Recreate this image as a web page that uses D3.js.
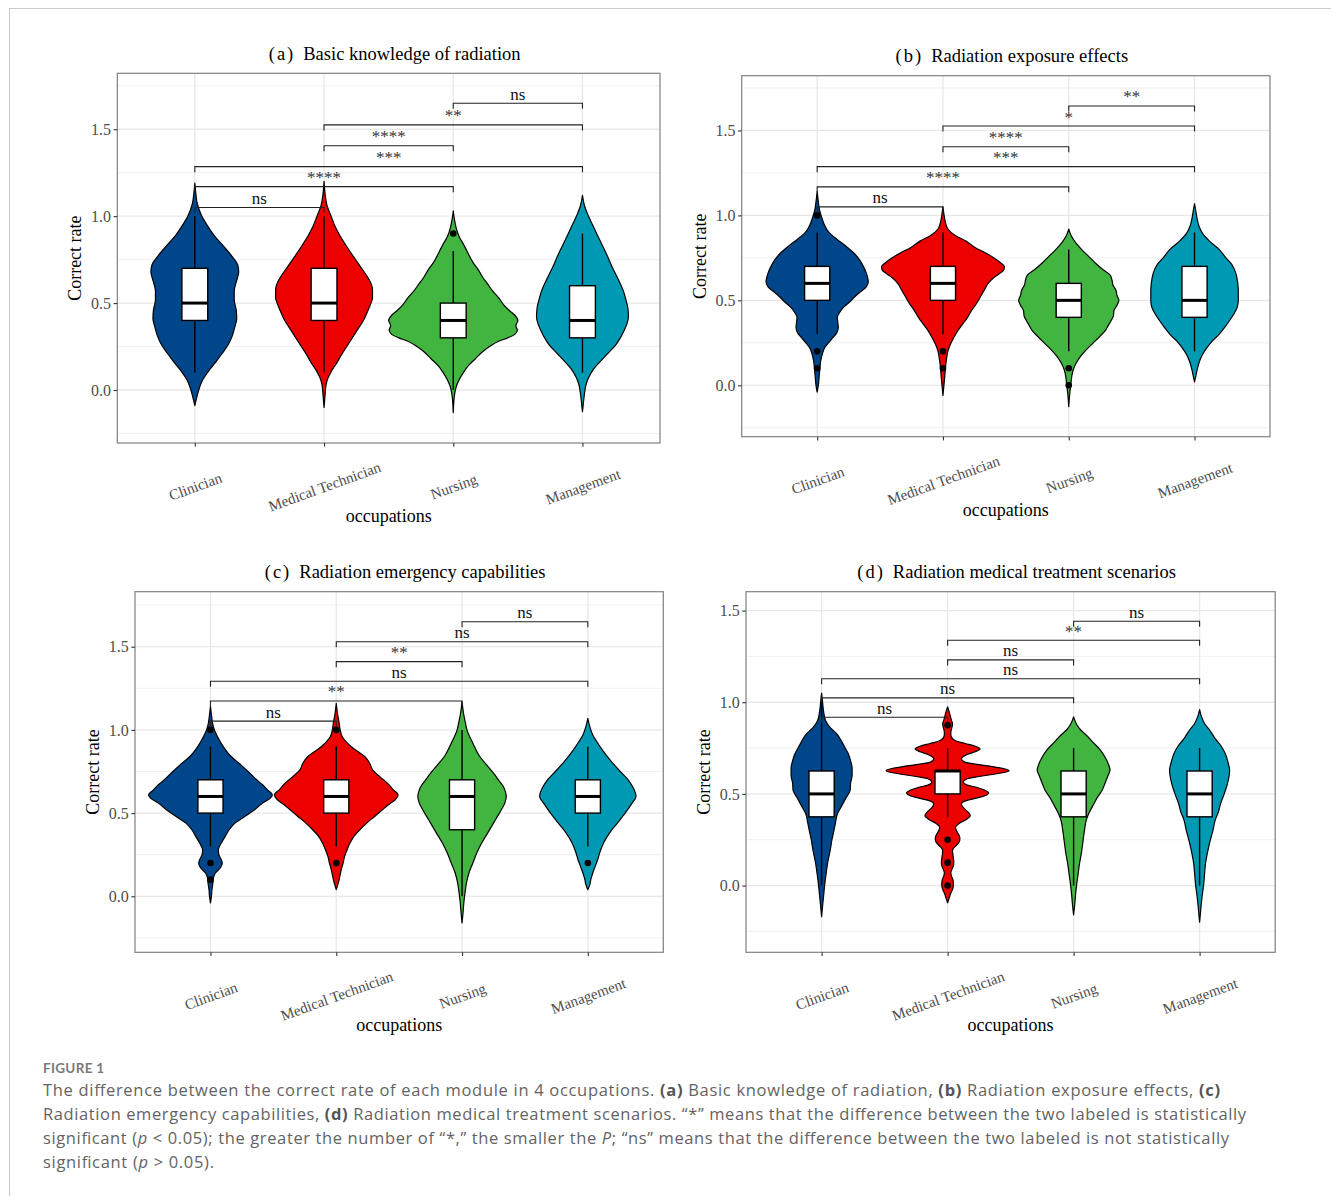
<!DOCTYPE html>
<html>
<head>
<meta charset="utf-8">
<script src="https://cdn.jsdelivr.net/npm/d3@7"></script>
<style>
  body { margin: 0; background: #fff; }
  svg { display: block; }
</style>
</head>
<body>
<div id="chart"></div>
<script>
// ---- data -------------------------------------------------------------
const occupations = ["Clinician", "Medical Technician", "Nursing", "Management"];
const fills = ["#00468B", "#ED0000", "#42B540", "#0099B4"];
const yTicks = [0, 0.5, 1.0, 1.5];
const yMinor = [-0.25, 0.25, 0.75, 1.25, 1.75];

// comparison pairs (indices into occupations), lowest bracket first
const pairs = [[0, 1], [0, 2], [0, 3], [1, 2], [1, 3], [2, 3]];

// boxplot stats per occupation: [lower whisker, Q1, median, Q3, upper whisker]
const boxA = [[0.1, 0.4, 0.5, 0.7, 1.0], [0.1, 0.4, 0.5, 0.7, 1.0], [0.0, 0.3, 0.4, 0.5, 0.8], [0.1, 0.3, 0.4, 0.6, 0.9]];
const boxB = [[0.3, 0.5, 0.6, 0.7, 0.9], [0.3, 0.5, 0.6, 0.7, 0.9], [0.2, 0.4, 0.5, 0.6, 0.8], [0.2, 0.4, 0.5, 0.7, 0.9]];
const boxC = [[0.3, 0.5, 0.6, 0.7, 0.9], [0.3, 0.5, 0.6, 0.7, 0.9], [0.0, 0.4, 0.6, 0.7, 1.0], [0.3, 0.5, 0.6, 0.7, 0.9]];
const boxD = [[0.0, 0.375, 0.5, 0.625, 1.0], [0.375, 0.5, 0.625, 0.625, 0.75], [0.0, 0.375, 0.5, 0.625, 0.75], [0.0, 0.375, 0.5, 0.625, 0.75]];

// outlying observations
const outA = [[], [], [0.9], []];
const outB = [[1.0, 0.2, 0.1], [0.2, 0.1], [0.1, 0.0], []];
const outC = [[1.0, 0.2, 0.1], [1.0, 0.2], [], [0.2]];
const outD = [[], [0.875, 0.25, 0.125, 0.0], [], []];

// significance labels and bracket heights (correct-rate units)
const sigA = ["ns", "****", "***", "****", "**", "ns"];
const sigB = ["ns", "****", "***", "****", "*", "**"];
const sigC = ["ns", "**", "ns", "**", "ns", "ns"];
const sigD = ["ns", "ns", "ns", "ns", "**", "ns"];
const bracketA = [1.05, 1.17, 1.285, 1.405, 1.525, 1.65];
const bracketB = [1.05, 1.168, 1.287, 1.404, 1.526, 1.644];
const bracketC = [1.053, 1.174, 1.292, 1.41, 1.53, 1.65];
const bracketD = [0.918, 1.024, 1.128, 1.231, 1.338, 1.442];

// violin outlines: [correct rate, density half-width]
const violinA = [
  [[1.19,0],[1.13,1],[1.07,2.5],[1.0,7],[0.95,12],[0.89,19],[0.83,28],[0.76,38],[0.72,42.5],[0.68,43.5],[0.63,41.5],[0.57,39],[0.52,39],[0.46,41],[0.41,41.5],[0.36,39.5],[0.31,37],[0.26,33],[0.21,27],[0.17,22],[0.13,16.5],[0.1,12.5],[0.06,8],[0.02,5],[-0.03,2.5],[-0.09,0]],
  [[1.2,0],[1.13,1],[1.06,3],[1.0,7],[0.94,11],[0.89,15.5],[0.83,22],[0.76,30],[0.71,36],[0.66,42],[0.62,46],[0.58,48],[0.53,48],[0.5,46.5],[0.45,43],[0.4,39],[0.35,33.5],[0.3,28],[0.25,22.5],[0.2,17],[0.15,12],[0.11,7.5],[0.07,4],[0.03,2],[-0.03,1],[-0.1,0]],
  [[1.03,0],[0.98,1.2],[0.93,3],[0.88,6],[0.84,10],[0.8,13.5],[0.76,17],[0.73,20],[0.69,25],[0.65,29],[0.61,34],[0.57,39],[0.53,45],[0.49,50],[0.46,55],[0.43,61],[0.4,64],[0.37,62],[0.345,63.5],[0.32,61],[0.3,54],[0.28,45],[0.25,36],[0.22,29],[0.18,22],[0.14,15],[0.1,10],[0.06,6],[0.02,3],[-0.03,1.2],[-0.13,0]],
  [[1.12,0],[1.06,2],[1.0,6],[0.95,10],[0.9,14],[0.84,19],[0.78,24],[0.7,30],[0.63,36],[0.57,40.5],[0.52,43],[0.47,45],[0.42,45.5],[0.38,44],[0.34,41],[0.3,37.5],[0.26,33],[0.21,25],[0.16,17],[0.12,11],[0.07,6],[0.03,3.5],[-0.02,2],[-0.07,1],[-0.125,0]]
];
const violinB = [
  [[1.14,0],[1.08,1.2],[1.03,2.5],[1.0,4],[0.95,7],[0.9,12],[0.86,20],[0.82,29],[0.78,37],[0.74,43],[0.7,47],[0.66,50],[0.63,51.5],[0.61,52],[0.58,50],[0.55,44],[0.52,38],[0.49,33],[0.46,27],[0.43,23],[0.4,20.5],[0.37,21],[0.34,21.5],[0.31,20],[0.28,16],[0.25,11.5],[0.22,7.5],[0.18,5],[0.14,3.5],[0.1,2.8],[0.05,2],[0.0,1.2],[-0.04,0]],
  [[1.05,0],[1.0,1.2],[0.96,2.5],[0.92,5],[0.88,13],[0.85,23],[0.81,33],[0.78,43],[0.75,52],[0.72,59],[0.7,62.5],[0.68,62],[0.66,58],[0.63,51],[0.6,46],[0.56,42],[0.52,38],[0.48,34],[0.44,29],[0.4,25],[0.36,20],[0.32,15],[0.28,11],[0.24,7.5],[0.2,5],[0.15,3.5],[0.1,2.5],[0.05,1.8],[0.0,1],[-0.06,0]],
  [[0.92,0],[0.88,2.5],[0.84,7],[0.8,13],[0.76,20],[0.72,27],[0.68,35],[0.65,42],[0.62,44],[0.59,45],[0.56,48],[0.53,49],[0.5,51],[0.47,49],[0.44,46],[0.41,45.5],[0.38,43],[0.35,40],[0.32,37],[0.29,32],[0.25,25],[0.21,18],[0.17,12],[0.13,7.5],[0.09,4.5],[0.05,3],[0.0,2],[-0.05,1],[-0.126,0]],
  [[1.07,0],[1.02,1.5],[0.97,3],[0.93,5],[0.9,7.5],[0.85,15],[0.8,25],[0.75,32],[0.71,38],[0.66,42],[0.6,44],[0.55,44.5],[0.5,44.5],[0.46,43.5],[0.42,40],[0.38,35.5],[0.34,30.5],[0.3,25],[0.26,18],[0.22,12.5],[0.18,8],[0.14,5],[0.1,3],[0.06,1.5],[0.02,0]]
];
const violinC = [
  [[1.14,0],[1.08,1.2],[1.03,2.5],[1.0,4],[0.95,8],[0.9,13],[0.84,21],[0.79,31],[0.74,40],[0.7,47],[0.67,53],[0.64,58],[0.61,63],[0.59,61],[0.56,53],[0.52,45],[0.48,35],[0.44,25],[0.4,19],[0.36,15],[0.32,11],[0.28,8],[0.25,8.5],[0.22,11],[0.2,12],[0.17,10],[0.14,5],[0.11,3],[0.08,2.5],[0.04,1.5],[0.0,1],[-0.04,0]],
  [[1.16,0],[1.1,1.2],[1.04,3],[1.0,4],[0.96,6],[0.9,15],[0.84,29],[0.8,34],[0.76,37],[0.72,44],[0.68,52],[0.64,58],[0.61,63],[0.58,60],[0.55,53],[0.52,47],[0.48,39],[0.44,31],[0.4,24],[0.36,18],[0.32,14],[0.28,11],[0.24,8.5],[0.2,7],[0.17,5.5],[0.13,4],[0.09,2.5],[0.04,0]],
  [[1.17,0],[1.1,1.5],[1.04,3.5],[1.0,5],[0.92,11],[0.84,18],[0.79,25],[0.74,32],[0.7,37],[0.66,42],[0.62,44.5],[0.6,45],[0.56,43.5],[0.5,38],[0.44,32],[0.38,26],[0.32,20],[0.26,15],[0.2,11],[0.14,7],[0.08,4.5],[0.02,3],[-0.04,1.8],[-0.1,1],[-0.16,0]],
  [[1.07,0],[1.02,2],[0.97,5],[0.93,9],[0.87,16],[0.81,24],[0.75,33],[0.7,41],[0.66,45.5],[0.62,48.5],[0.6,49],[0.56,45],[0.5,38],[0.44,30],[0.38,22],[0.32,16],[0.26,12],[0.22,10],[0.18,7.5],[0.14,5],[0.1,3],[0.07,2],[0.04,0]]
];
const violinD = [
  [[1.05,0],[1.0,1],[0.95,2],[0.9,4],[0.86,9],[0.83,15],[0.79,20],[0.76,23],[0.72,27],[0.68,29.5],[0.64,31],[0.6,31],[0.56,29.5],[0.52,29],[0.48,25],[0.44,21],[0.39,16],[0.34,14],[0.3,12.5],[0.25,10.5],[0.2,9],[0.16,7.5],[0.12,6],[0.08,5],[0.03,3.7],[-0.03,2.5],[-0.1,1.2],[-0.17,0]],
  [[0.975,0],[0.95,1.5],[0.92,3],[0.9,4],[0.882,5],[0.865,4.5],[0.845,3.5],[0.83,3.3],[0.815,3.5],[0.79,8],[0.775,18],[0.76,28],[0.746,33],[0.73,28],[0.715,20],[0.7,15],[0.69,14],[0.672,18],[0.66,32],[0.645,50],[0.627,62.5],[0.61,50],[0.595,32],[0.583,20],[0.565,16],[0.548,20],[0.535,30],[0.52,38],[0.506,41.7],[0.49,38],[0.478,30],[0.462,18],[0.445,14],[0.425,16],[0.405,20],[0.382,23],[0.36,19],[0.34,12],[0.315,8],[0.29,10],[0.27,12],[0.255,12.5],[0.24,12],[0.22,9],[0.2,5.5],[0.187,5],[0.165,5.5],[0.145,6],[0.127,6.3],[0.11,6],[0.09,4.5],[0.069,3.3],[0.05,4],[0.03,5.5],[0.005,6],[-0.02,5],[-0.045,3],[-0.07,1.5],[-0.094,0]],
  [[0.92,0],[0.88,3],[0.85,7],[0.82,13],[0.78,20],[0.74,27],[0.7,32],[0.66,35.5],[0.63,37],[0.6,35],[0.56,32],[0.52,29],[0.48,24],[0.44,20],[0.4,16],[0.36,13],[0.3,11],[0.24,9.5],[0.18,8],[0.12,6],[0.06,4.5],[0.0,3],[-0.05,2],[-0.1,1.2],[-0.16,0]],
  [[0.96,0],[0.92,2],[0.88,5.5],[0.85,10],[0.8,16],[0.76,22],[0.72,26],[0.67,29],[0.63,30.5],[0.6,30],[0.55,28],[0.5,25],[0.45,21.5],[0.4,19],[0.36,16],[0.3,13.5],[0.24,10.5],[0.18,8],[0.12,6],[0.06,5],[0.0,4],[-0.06,2.5],[-0.13,1.2],[-0.2,0]]
];

const panelTitles = ["Basic knowledge of radiation", "Radiation exposure effects", "Radiation emergency capabilities", "Radiation medical treatment scenarios"];
const panelTags = ["(a)", "(b)", "(c)", "(d)"];

// ---- layout -----------------------------------------------------------
const panels = [
  { tag: panelTags[0], title: panelTitles[0], box: boxA, out: outA, violins: violinA, sig: sigA, brackets: bracketA,
    domain: [-0.305, 1.822], left: 117.3, right: 660, top: 73.3, bottom: 443 },
  { tag: panelTags[1], title: panelTitles[1], box: boxB, out: outB, violins: violinB, sig: sigB, brackets: bracketB,
    domain: [-0.3025, 1.8223], left: 741.7, right: 1270, top: 75.7, bottom: 436.7 },
  { tag: panelTags[2], title: panelTitles[2], box: boxC, out: outC, violins: violinC, sig: sigC, brackets: bracketC,
    domain: [-0.3365, 1.8305], left: 135, right: 663.3, top: 591.7, bottom: 952.3 },
  { tag: panelTags[3], title: panelTitles[3], box: boxD, out: outD, violins: violinD, sig: sigD, brackets: bracketD,
    domain: [-0.364, 1.603], left: 746, right: 1275.2, top: 591.7, bottom: 952.3 }
];

const W = 1331, H = 1196;
const serif = "'Liberation Serif', 'Times New Roman', serif";
const svg = d3.select("#chart").append("svg").attr("width", W).attr("height", H);
svg.append("rect").attr("width", W).attr("height", H).attr("fill", "#fff");

// page frame
svg.append("line").attr("x1", 9).attr("x2", W).attr("y1", 8.5).attr("y2", 8.5).attr("stroke", "#c9c9c9");
svg.append("line").attr("x1", 9.5).attr("x2", 9.5).attr("y1", 8).attr("y2", H).attr("stroke", "#c9c9c9");

panels.forEach(drawPanel);

function drawPanel(p) {
  const g = svg.append("g");
  const x = d3.scalePoint().domain(occupations).range([p.left, p.right]).padding(0.6);
  const y = d3.scaleLinear().domain(p.domain).range([p.bottom, p.top]);
  const step = x.step();
  const wd = d3.scaleLinear().domain([0, 64]).range([0, step / 2]);
  const bw = step * 0.2;

  // grid
  const grid = g.append("g");
  grid.selectAll("line.minor").data(yMinor.filter(v => v > p.domain[0] && v < p.domain[1])).join("line")
    .attr("x1", p.left).attr("x2", p.right).attr("y1", d => y(d)).attr("y2", d => y(d))
    .attr("stroke", "#ececec").attr("stroke-width", 0.8);
  grid.selectAll("line.major").data(yTicks).join("line")
    .attr("x1", p.left).attr("x2", p.right).attr("y1", d => y(d)).attr("y2", d => y(d))
    .attr("stroke", "#e8e8e8").attr("stroke-width", 1.3);
  grid.selectAll("line.vx").data(occupations).join("line")
    .attr("x1", d => x(d)).attr("x2", d => x(d)).attr("y1", p.top).attr("y2", p.bottom)
    .attr("stroke", "#e8e8e8").attr("stroke-width", 1.3);

  // violins
  occupations.forEach((occ, i) => {
    const cx = x(occ);
    const area = d3.area()
      .curve(d3.curveMonotoneY)
      .y(d => y(d[0]))
      .x0(d => cx - wd(d[1]))
      .x1(d => cx + wd(d[1]));
    g.append("path").attr("d", area(p.violins[i]))
      .attr("fill", fills[i]).attr("stroke", "#000").attr("stroke-width", 1.2)
      .attr("stroke-linejoin", "round");
  });

  // boxplots
  occupations.forEach((occ, i) => {
    const cx = x(occ);
    const [lo, q1, med, q3, hi] = p.box[i];
    const bg = g.append("g");
    bg.append("line").attr("x1", cx).attr("x2", cx).attr("y1", y(hi)).attr("y2", y(q3))
      .attr("stroke", "#000").attr("stroke-width", 1.4);
    bg.append("line").attr("x1", cx).attr("x2", cx).attr("y1", y(q1)).attr("y2", y(lo))
      .attr("stroke", "#000").attr("stroke-width", 1.4);
    bg.append("rect").attr("x", cx - bw / 2).attr("width", bw)
      .attr("y", y(q3)).attr("height", y(q1) - y(q3))
      .attr("fill", "#fff").attr("stroke", "#000").attr("stroke-width", 1.4);
    bg.append("line").attr("x1", cx - bw / 2).attr("x2", cx + bw / 2).attr("y1", y(med)).attr("y2", y(med))
      .attr("stroke", "#000").attr("stroke-width", 3);
    bg.selectAll("circle").data(p.out[i]).join("circle")
      .attr("cx", cx).attr("cy", d => y(d)).attr("r", 3.3).attr("fill", "#000");
  });

  // significance brackets
  const tip = 5.5;
  pairs.forEach((pr, k) => {
    const x1 = x(occupations[pr[0]]), x2 = x(occupations[pr[1]]);
    const yy = y(p.brackets[k]);
    g.append("path").attr("d", `M${x1},${yy + tip}V${yy}H${x2}V${yy + tip}`)
      .attr("fill", "none").attr("stroke", "#222").attr("stroke-width", 1.1);
    g.append("text").attr("x", (x1 + x2) / 2).attr("y", yy - 3.5)
      .attr("text-anchor", "middle").attr("font-family", serif).attr("font-size", 17)
      .attr("fill", p.sig[k] === "ns" ? "#111" : "#333")
      .text(p.sig[k]);
  });

  // panel border
  g.append("rect").attr("x", p.left).attr("y", p.top)
    .attr("width", p.right - p.left).attr("height", p.bottom - p.top)
    .attr("fill", "none").attr("stroke", "#808080").attr("stroke-width", 1.2);

  // axes
  const ay = g.append("g").attr("transform", `translate(${p.left},0)`)
    .call(d3.axisLeft(y).tickValues(yTicks).tickFormat(d3.format(".1f")).tickSize(3.7).tickPadding(2.5));
  ay.select(".domain").remove();
  ay.selectAll(".tick line").attr("stroke", "#333").attr("stroke-width", 1.1);
  ay.selectAll(".tick text").attr("font-family", serif).attr("font-size", 16).attr("fill", "#4d4d4d");

  const ax = g.append("g").attr("transform", `translate(0,${p.bottom})`)
    .call(d3.axisBottom(x).tickSize(3.7));
  ax.select(".domain").remove();
  ax.selectAll(".tick line").attr("stroke", "#333").attr("stroke-width", 1.1);
  ax.selectAll(".tick text")
    .attr("y", 0).attr("dy", "0.35em").attr("text-anchor", "middle")
    .attr("transform", "translate(0,43.5) rotate(-20)")
    .attr("font-family", serif).attr("font-size", 15).attr("fill", "#4d4d4d");

  // titles
  const cxPanel = (p.left + p.right) / 2;
  const t = g.append("text").attr("x", cxPanel + 6).attr("y", p.top - 13.5)
    .attr("text-anchor", "middle").attr("font-family", serif).attr("font-size", 18.5).attr("fill", "#000");
  t.append("tspan").attr("letter-spacing", 2).text(p.tag);
  t.append("tspan").attr("dx", 8).text(p.title);

  g.append("text")
    .attr("transform", `translate(${p.left - 42.5},${(p.top + p.bottom) / 2}) rotate(-90)`)
    .attr("dy", "0.35em").attr("text-anchor", "middle")
    .attr("font-family", serif).attr("font-size", 18).attr("fill", "#000")
    .text("Correct rate");

  g.append("text").attr("x", cxPanel).attr("y", p.bottom + 79)
    .attr("text-anchor", "middle").attr("font-family", serif).attr("font-size", 18).attr("fill", "#000")
    .text("occupations");
}

// ---- caption ----------------------------------------------------------
const sans = "'Open Sans', Lato, sans-serif";
svg.append("text").attr("x", 43).attr("y", 1073)
  .attr("font-family", "Lato, sans-serif").attr("font-size", 13.5).attr("font-weight", 700)
  .attr("fill", "#7a7a7a").attr("letter-spacing", 0.3).text("FIGURE 1");

const captionLines = [
  [["The difference between the correct rate of each module in 4 occupations. ", ""], ["(a)", "b"], [" Basic knowledge of radiation, ", ""], ["(b)", "b"], [" Radiation exposure effects, ", ""], ["(c)", "b"]],
  [["Radiation emergency capabilities, ", ""], ["(d)", "b"], [" Radiation medical treatment scenarios. \u201C*\u201D means that the difference between the two labeled is statistically", ""]],
  [["significant (", ""], ["p", "i"], [" < 0.05); the greater the number of \u201C*,\u201D the smaller the ", ""], ["P", "i"], ["; \u201Cns\u201D means that the difference between the two labeled is not statistically", ""]],
  [["significant (", ""], ["p", "i"], [" > 0.05).", ""]]
];
const captionEnds = [1220, 1246, 1229, 214];

captionLines.forEach((segs, li) => {
  const t = svg.append("text").attr("x", 43).attr("y", 1096 + li * 24)
    .attr("font-family", sans).attr("font-size", 16.5).attr("fill", "#636363")
    .attr("xml:space", "preserve");
  segs.forEach(([s, st]) => {
    const sp = t.append("tspan").text(s);
    if (st === "b") sp.attr("font-weight", 700).attr("fill", "#555");
    if (st === "i") sp.attr("font-style", "italic");
  });
  t.attr("textLength", captionEnds[li] - 43).attr("lengthAdjust", "spacing");
});
</script>
</body>
</html>
